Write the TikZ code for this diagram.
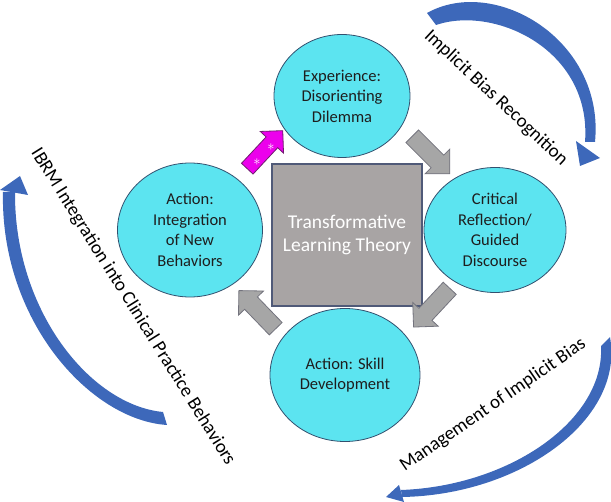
\documentclass[tikz,border=0pt]{standalone}
\usepackage{fontspec}
\setmainfont{Carlito}
\usetikzlibrary{shapes.arrows,shapes.geometric}
\definecolor{cyanfill}{RGB}{92,228,240}
\definecolor{circedge}{RGB}{50,80,110}
\definecolor{sqfill}{RGB}{168,164,164}
\definecolor{sqedge}{RGB}{80,90,120}
\definecolor{grayarrow}{RGB}{166,166,166}
\definecolor{grayedge}{RGB}{115,115,125}
\definecolor{magfill}{RGB}{236,0,236}
\definecolor{magedge}{RGB}{110,30,110}
\definecolor{bluearc}{RGB}{61,104,186}
\definecolor{txt}{RGB}{30,30,30}
\begin{document}
\begin{tikzpicture}[x=1pt,y=-1pt,
  stage/.style={ellipse, draw=circedge, line width=0.8pt, fill=cyanfill, inner sep=0pt,
    text=txt, font=\fontsize{16.5}{20.5}\selectfont, align=center},
  theory/.style={rectangle, draw=sqedge, line width=1.2pt, fill=sqfill, text=white,
    font=\fontsize{19.5}{23}\selectfont, align=center, minimum width=150pt, minimum height=142pt},
  flowarrow/.style={single arrow, draw=grayedge, line width=0.8pt, fill=grayarrow,
    inner sep=8.5pt, single arrow head extend=8.5pt, minimum height=53pt, anchor=tail},
  magarrow/.style={single arrow, draw=magedge, line width=0.8pt, fill=magfill,
    inner sep=7.5pt, single arrow head extend=8pt, minimum height=52pt, anchor=tail},
  star/.style={text=white, font=\fontsize{15}{15}\selectfont, inner sep=0pt},
  cyclelabel/.style={font=\fontsize{19}{19}\selectfont, text=black, inner sep=0pt},
  bluecurve/.style={fill=bluearc}
]
\useasboundingbox (0,0) rectangle (611,502);

% central square
\node[theory] (tlt) at (347,235) {Transformative\\Learning Theory};

% stages
\node[stage, minimum width=136pt, minimum height=123pt] (exp) at (342,96) {Experience:\\Disorienting\\Dilemma};
\node[stage, minimum width=142pt, minimum height=125pt] (ref) at (495,230) {Critical\\Reflection/\\Guided\\Discourse};
\node[stage, minimum width=150pt, minimum height=133pt] (skill) at (345,375) {Action: Skill\\Development};
\node[stage, minimum width=145pt, minimum height=134pt] (integ) at (190,230) {Action:\\Integration\\of New\\Behaviors};

% block arrows between stages
\node[flowarrow, rotate=-45] (g1) at (412,136) {};
\node[flowarrow, rotate=-133] (g2) at (450,288) {};
\node[flowarrow, rotate=134] (g3) at (276,329) {};
\node[magarrow, rotate=47] (m1) at (247,169) {};
\node[star] (s1) at (257,162) {$\ast$};
\node[star] (s2) at (271,147) {$\ast$};

% blue curved arrows
\fill[bluecurve] (427,13) .. controls (495,-25) and (605,40) .. (595,142)
  -- (585,142) .. controls (592,50) and (495,5) .. (436,25) -- cycle;
\fill[bluecurve] (576,141) -- (600,158) -- (580,166) -- cycle;

\fill[bluecurve] (610,337) .. controls (625,420) and (520,495) .. (402,497)
  -- (401,490) .. controls (510,486) and (605,420) .. (601,346) -- cycle;
\fill[bluecurve] (386,497) -- (399,485) -- (404,502) -- cycle;

\fill[bluecurve] (167,425) .. controls (90,420) and (0,320) .. (3,192)
  -- (15,192) .. controls (14,310) and (90,405) .. (163,412) -- cycle;
\fill[bluecurve] (20,176) -- (0,190) -- (28,195) -- cycle;

% cycle labels
\node[cyclelabel, rotate=-43] (lab1) at (496,98) {Implicit Bias Recognition};
\node[cyclelabel, rotate=34.5] (lab2) at (493,405) {Management of Implicit Bias};
\node[cyclelabel, rotate=-58] (lab3) at (133,307) {IBRM Integration into Clinical Practice Behaviors};
\end{tikzpicture}
\end{document}
